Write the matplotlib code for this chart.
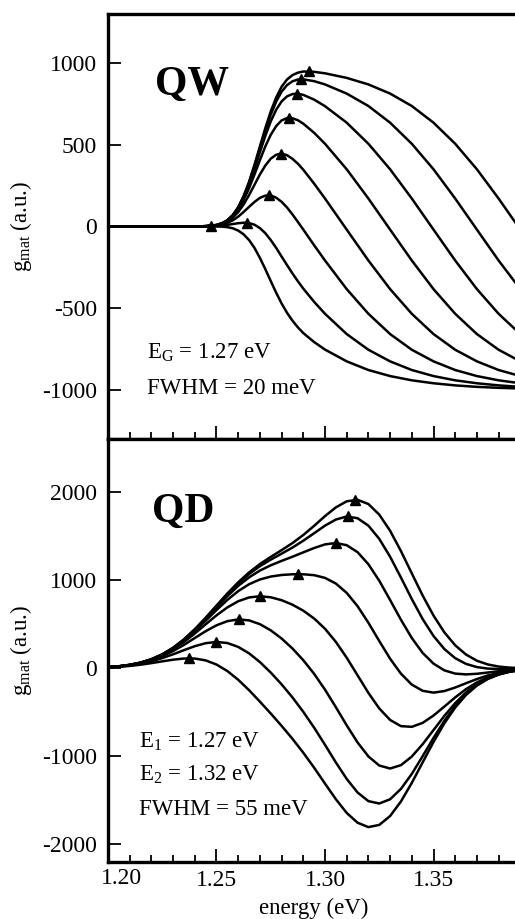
import matplotlib
matplotlib.use('Agg')
import matplotlib.pyplot as plt
from matplotlib.ticker import MultipleLocator

plt.rcParams['font.family'] = 'Liberation Serif'
plt.rcParams['mathtext.fontset'] = 'custom'
plt.rcParams['mathtext.rm'] = 'Liberation Serif'
plt.rcParams['mathtext.it'] = 'Liberation Serif:italic'
plt.rcParams['mathtext.bf'] = 'Liberation Serif:bold'
plt.rcParams['axes.unicode_minus'] = False

### QW panel: material gain, one curve per carrier density
qw_e = [1.20, 1.23, 1.24, 1.245, 1.25, 1.2525, 1.255, 1.2575, 1.26, 1.2625, 1.265,
        1.2675, 1.27, 1.2725, 1.275, 1.2775, 1.28, 1.2825, 1.285, 1.2875, 1.29,
        1.295, 1.30, 1.31, 1.32, 1.33, 1.34, 1.35, 1.36, 1.37, 1.38, 1.39]
qw_1 = [0, 0, 0, 0, 0, -1, -4, -11, -25, -48, -83, -131, -192, -261, -334, -405,
        -471, -528, -576, -617, -652, -707, -753, -825, -878, -915, -941, -959,
        -972, -981, -987, -991]
qw_2 = [0, 0, 0, 1, 3, 6, 10, 15, 20, 23, 21, 11, -10, -41, -83, -131, -184, -236,
        -287, -335, -380, -461, -534, -658, -754, -825, -878, -915, -941, -959,
        -972, -981]
qw_3 = [0, 0, 0, 1, 6, 12, 22, 38, 60, 89, 120, 150, 175, 189, 190, 176, 151, 116,
        74, 28, -19, -115, -208, -383, -534, -658, -754, -825, -878, -915, -941,
        -959]
qw_4 = [0, 0, 0, 2, 7, 16, 30, 54, 88, 135, 192, 255, 318, 373, 415, 439, 446, 436,
        414, 384, 347, 262, 171, -19, -208, -383, -534, -658, -754, -825, -878,
        -915]
qw_5 = [0, 0, 0, 2, 8, 18, 34, 62, 104, 162, 234, 318, 406, 490, 561, 614, 649,
        663, 662, 650, 629, 573, 506, 350, 171, -19, -208, -383, -534, -658, -754,
        -825]
qw_6 = [0, 0, 0, 2, 9, 19, 37, 67, 112, 176, 257, 352, 454, 554, 643, 714, 765,
        796, 810, 812, 805, 776, 736, 635, 506, 350, 171, -19, -208, -383, -534,
        -658]
qw_7 = [0, 0, 0, 2, 9, 19, 38, 69, 116, 183, 268, 369, 478, 586, 684, 764, 825,
        865, 888, 899, 900, 889, 869, 813, 737, 635, 506, 350, 171, -19, -208, -383]
qw_8 = [0, 0, 0, 2, 9, 20, 38, 70, 118, 186, 273, 377, 490, 602, 704, 789, 855,
        899, 926, 941, 948, 946, 937, 909, 869, 813, 737, 635, 506, 350, 171, -19]
qw_peak_e = [1.2475, 1.264, 1.274, 1.2795, 1.2835, 1.287, 1.289, 1.2925]
qw_peak_g = [0, 21, 192, 446, 664, 813, 901, 949]

### QD panel
qd_e = [1.200, 1.205, 1.210, 1.215, 1.220, 1.225, 1.230, 1.235, 1.240, 1.245,
        1.250, 1.255, 1.260, 1.265, 1.270, 1.275, 1.280, 1.285, 1.290, 1.295,
        1.300, 1.305, 1.310, 1.315, 1.320, 1.325, 1.330, 1.335, 1.340, 1.345,
        1.350, 1.355, 1.360, 1.365, 1.370, 1.375, 1.380, 1.385, 1.390]
qd_1 = [9, 15, 25, 39, 57, 77, 96, 109, 109, 88, 41, -33, -132, -250, -380, -515,
        -655, -802, -960, -1130, -1310, -1487, -1643, -1754, -1804, -1779, -1678,
        -1513, -1302, -1069, -838, -626, -447, -304, -198, -123, -73, -41, -22]
qd_2 = [10, 18, 31, 50, 78, 114, 157, 204, 249, 283, 297, 285, 241, 168, 69, -50,
        -184, -332, -496, -676, -870, -1070, -1257, -1411, -1509, -1536, -1488,
        -1370, -1200, -999, -792, -598, -430, -295, -193, -120, -71, -40, -22]
qd_3 = [11, 19, 34, 57, 90, 135, 194, 264, 342, 419, 486, 533, 553, 542, 499, 429,
        336, 223, 90, -65, -244, -443, -649, -843, -1002, -1105, -1139, -1101,
        -1003, -863, -703, -542, -397, -276, -182, -115, -69, -39, -21]
qd_4 = [11, 20, 36, 60, 96, 146, 214, 297, 393, 497, 599, 689, 759, 802, 816, 804,
        771, 720, 652, 563, 447, 298, 118, -81, -281, -457, -588, -658, -666, -621,
        -538, -436, -332, -238, -162, -104, -63, -37, -20]
qd_5 = [11, 20, 36, 61, 99, 152, 223, 313, 420, 538, 659, 774, 874, 952, 1006, 1039,
        1057, 1065, 1065, 1055, 1024, 960, 854, 703, 515, 308, 107, -63, -187, -257,
        -278, -260, -220, -171, -124, -83, -53, -32, -18]
qd_6 = [11, 21, 37, 62, 100, 154, 228, 321, 432, 558, 689, 817, 933, 1030, 1107,
        1167, 1217, 1264, 1314, 1363, 1404, 1420, 1395, 1316, 1179, 992, 773, 549,
        342, 173, 51, -25, -62, -71, -64, -50, -35, -23, -14]
qd_7 = [11, 21, 37, 62, 101, 156, 230, 325, 439, 567, 703, 837, 961, 1068, 1157,
        1231, 1299, 1368, 1446, 1531, 1617, 1686, 1721, 1701, 1617, 1467, 1264, 1028,
        784, 557, 365, 217, 113, 48, 12, -5, -10, -9, -7]
qd_8 = [11, 21, 37, 62, 101, 156, 231, 326, 441, 571, 710, 847, 974, 1086, 1181,
        1262, 1339, 1419, 1511, 1615, 1725, 1824, 1893, 1910, 1862, 1742, 1559, 1328,
        1075, 824, 597, 406, 259, 154, 84, 42, 18, 6, 1]
qd_peak_e = [1.2375, 1.250, 1.2605, 1.270, 1.2875, 1.305, 1.3105, 1.314]
qd_peak_g = [111, 297, 554, 816, 1067, 1420, 1722, 1912]

qw_curves = [qw_1, qw_2, qw_3, qw_4, qw_5, qw_6, qw_7, qw_8]
qd_curves = [qd_1, qd_2, qd_3, qd_4, qd_5, qd_6, qd_7, qd_8]

fig = plt.figure(figsize=(5.15, 9.19), dpi=100)
ax1 = fig.add_axes([0.2097, 0.5223, 0.8006, 0.4625])
ax2 = fig.add_axes([0.2097, 0.0620, 0.8006, 0.4603])

for g in qw_curves:
    ax1.plot(qw_e, g, color='black', lw=1.8)
ax1.plot(qw_peak_e, qw_peak_g, '^', color='black', ms=7)

for g in qd_curves:
    ax2.plot(qd_e, g, color='black', lw=1.8)
ax2.plot(qd_peak_e, qd_peak_g, '^', color='black', ms=7)

for ax in (ax1, ax2):
    ax.set_xlim(1.20, 1.39)
    ax.xaxis.set_major_locator(MultipleLocator(0.05))
    ax.xaxis.set_minor_locator(MultipleLocator(0.01))
    ax.tick_params(which='both', direction='in', top=False, right=False,
                   labelsize=17, width=1.3)
    ax.tick_params(which='major', length=9.5)
    ax.tick_params(which='minor', length=5)
    ax.tick_params(axis='y', pad=8)
    ax.tick_params(axis='x', pad=5.5)
    for s in ax.spines.values():
        s.set_linewidth(2.4)
    ax.set_ylabel(r'g$_{\mathrm{mat}}$ (a.u.)', fontsize=16.5)
    ax.yaxis.set_label_coords(-0.18, 0.5)

ax1.set_ylim(-1300, 1300)
ax1.set_yticks([-1000, -500, 0, 500, 1000])
ax1.tick_params(axis='x', labelbottom=False)

ax2.set_ylim(-2200, 2600)
ax2.set_yticks([-2000, -1000, 0, 1000, 2000])
ax2.set_xticks([1.20, 1.25, 1.30, 1.35], ['', '1.25', '1.30', '1.35'])
ax2.annotate('1.20', xy=(1.20, 0), xycoords=('data', 'axes fraction'),
             xytext=(10, -4), textcoords='offset points', ha='center', va='top',
             fontsize=17)
ax2.set_xlabel('energy (eV)', fontsize=16.5, labelpad=5)

ax1.text(0.114, 0.809, 'QW', transform=ax1.transAxes, fontsize=30,
         fontweight='bold', ha='left', va='baseline')
ax1.text(0.095, 0.202, r'E$_{\mathrm{G}}$ = 1.27 eV', transform=ax1.transAxes,
         fontsize=16.5, ha='left', va='center')
ax1.text(0.095, 0.12, 'FWHM = 20 meV', transform=ax1.transAxes,
         fontsize=16.5, ha='left', va='center')

ax2.text(0.107, 0.804, 'QD', transform=ax2.transAxes, fontsize=30,
         fontweight='bold', ha='left', va='baseline')
ax2.text(0.075, 0.284, r'E$_{1}$ = 1.27 eV', transform=ax2.transAxes,
         fontsize=16.5, ha='left', va='center')
ax2.text(0.075, 0.206, r'E$_{2}$ = 1.32 eV', transform=ax2.transAxes,
         fontsize=16.5, ha='left', va='center')
ax2.text(0.075, 0.123, 'FWHM = 55 meV', transform=ax2.transAxes,
         fontsize=16.5, ha='left', va='center')

plt.savefig('out.png', dpi=100)
print('***Success***')
